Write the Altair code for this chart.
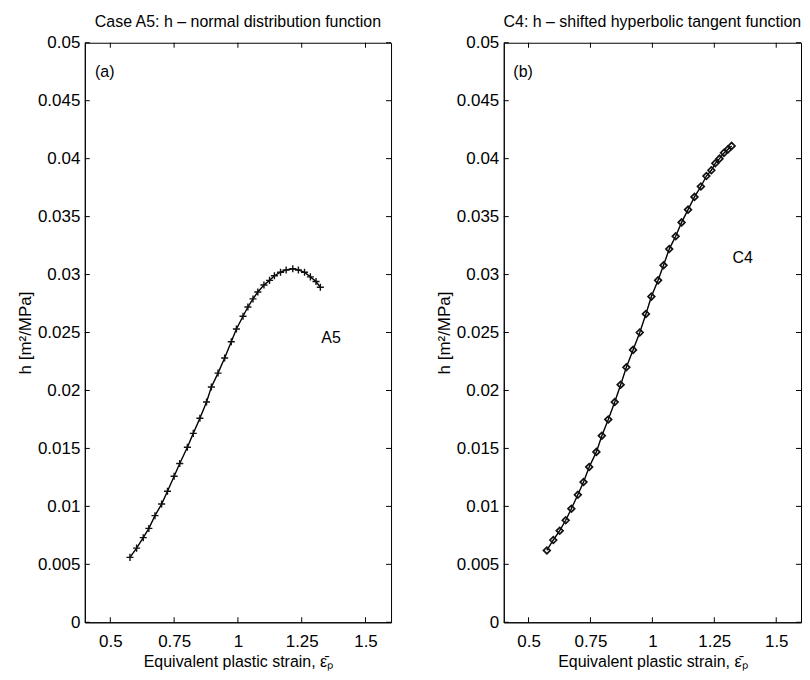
import altair as alt
import pandas as pd

# ---- data ----
a5_strain = [0.577, 0.603, 0.629, 0.651, 0.675, 0.701, 0.724, 0.750, 0.772, 0.802,
             0.825, 0.851, 0.877, 0.896, 0.922, 0.948, 0.974, 0.994, 1.020, 1.039,
             1.059, 1.078, 1.102, 1.124, 1.143, 1.167, 1.189, 1.215, 1.237, 1.261,
             1.284, 1.306, 1.323]
a5_h = [0.0056, 0.0064, 0.0073, 0.0081, 0.0092, 0.0102, 0.0113, 0.0126, 0.0137, 0.0151,
        0.0163, 0.0176, 0.0190, 0.0203, 0.0215, 0.0228, 0.0242, 0.0253, 0.0264, 0.0272,
        0.0279, 0.0285, 0.0291, 0.0295, 0.0299, 0.0302, 0.0304, 0.0305, 0.0304, 0.0302,
        0.0298, 0.0294, 0.0289]

c4_strain = [0.574, 0.600, 0.626, 0.650, 0.673, 0.699, 0.722, 0.745, 0.774, 0.796,
             0.822, 0.848, 0.872, 0.895, 0.922, 0.949, 0.974, 0.996, 1.023, 1.045,
             1.068, 1.094, 1.118, 1.144, 1.170, 1.196, 1.218, 1.238, 1.254, 1.271,
             1.289, 1.305, 1.320]
c4_h = [0.0062, 0.0071, 0.0079, 0.0088, 0.0098, 0.0110, 0.0121, 0.0134, 0.0147, 0.0161,
        0.0175, 0.0190, 0.0205, 0.0220, 0.0235, 0.0250, 0.0266, 0.0281, 0.0295, 0.0308,
        0.0322, 0.0333, 0.0345, 0.0356, 0.0367, 0.0376, 0.0385, 0.0390, 0.0396, 0.0400,
        0.0405, 0.0408, 0.0411]

x_ticks = [0.5, 0.75, 1.0, 1.25, 1.5]
y_ticks = [0, 0.005, 0.01, 0.015, 0.02, 0.025, 0.03, 0.035, 0.04, 0.045, 0.05]

titles = ["Case A5: h \u2013 normal distribution function",
          "C4: h \u2013 shifted hyperbolic tangent function"]
panel_tags = ["(a)", "(b)"]
curve_tags = ["A5", "C4"]
curve_tag_pos = [(1.365, 0.0245), (1.365, 0.0314)]
panel_tag_pos = (0.478, 0.0475)

FONT = "Liberation Sans"
FS = 17
TFS = 16
H = 581
X_DOMAIN = [0.4, 1.6]
Y_DOMAIN = [0, 0.05]
PLUS = "M-1,0L1,0M0,-1L0,1"


def panel(strain, h, title, ptag, ctag, cpos, shape, shape_size, width, stroke_w):
    df = pd.DataFrame({"strain": strain, "h": h})
    xs = alt.Scale(domain=X_DOMAIN, nice=False, zero=False)
    ys = alt.Scale(domain=Y_DOMAIN, nice=False, zero=False)
    x_enc = alt.X("strain:Q", scale=xs,
                  axis=alt.Axis(values=x_ticks, labelExpr="toString(datum.value)",
                                ticks=False,
                                title="Equivalent plastic strain,  \u03b5\u0304\u209a",
                                titleFontSize=16,
                                labelPadding=11, titlePadding=4, grid=False))
    y_enc = alt.Y("h:Q", scale=ys,
                  axis=alt.Axis(values=y_ticks, labelExpr="toString(datum.value)",
                                ticks=False,
                                title="h [m\u00b2/MPa]", labelPadding=5,
                                titlePadding=3, grid=False))
    line = alt.Chart(df).mark_line(color="black", strokeWidth=1.4).encode(x=x_enc, y=y_enc)
    pts = alt.Chart(df).mark_point(shape=shape, filled=False, size=shape_size,
                                   color="#111", strokeWidth=stroke_w, opacity=1).encode(
        x=alt.X("strain:Q", scale=xs), y=alt.Y("h:Q", scale=ys))

    xt = pd.DataFrame({"strain": x_ticks})
    yt = pd.DataFrame({"h": y_ticks})
    tb = alt.Chart(xt).mark_rule(color="black").encode(
        x=alt.X("strain:Q", scale=xs), y=alt.value(H), y2=alt.value(H - 5))
    tt = alt.Chart(xt).mark_rule(color="black").encode(
        x=alt.X("strain:Q", scale=xs), y=alt.value(0), y2=alt.value(5))
    tl = alt.Chart(yt).mark_rule(color="black").encode(
        y=alt.Y("h:Q", scale=ys), x=alt.value(0), x2=alt.value(5))
    tr = alt.Chart(yt).mark_rule(color="black").encode(
        y=alt.Y("h:Q", scale=ys), x=alt.value(width - 5), x2=alt.value(width))

    tag_df = pd.DataFrame({"strain": [panel_tag_pos[0], cpos[0]],
                           "h": [panel_tag_pos[1], cpos[1]],
                           "txt": [ptag, ctag]})
    tags = alt.Chart(tag_df).mark_text(font=FONT, fontSize=16, color="black").encode(
        x=alt.X("strain:Q", scale=xs), y=alt.Y("h:Q", scale=ys), text="txt:N")

    return alt.layer(line, pts, tb, tt, tl, tr, tags).properties(
        width=width, height=H,
        title=alt.TitleParams(title, font=FONT, fontSize=TFS, fontWeight="normal",
                              color="black", offset=3.5))


left = panel(a5_strain, a5_h, titles[0], panel_tags[0], curve_tags[0], curve_tag_pos[0],
             PLUS, 50, 307, 1.4)
right = panel(c4_strain, c4_h, titles[1], panel_tags[1], curve_tags[1], curve_tag_pos[1],
              "diamond", 45, 298, 1.7)

chart = alt.hconcat(left, right, spacing=113, bounds="flush").properties(
    padding={"left": 7, "top": 5, "right": 0, "bottom": 0},
    background="white"
).configure_view(stroke="black", strokeWidth=1).configure_axis(
    domainColor="black", labelColor="black", titleColor="black",
    labelFont=FONT, titleFont=FONT, labelFontSize=FS, titleFontSize=FS,
    titleFontWeight="normal"
)

chart.save("out.html", embed_options={"renderer": "svg", "actions": False})
